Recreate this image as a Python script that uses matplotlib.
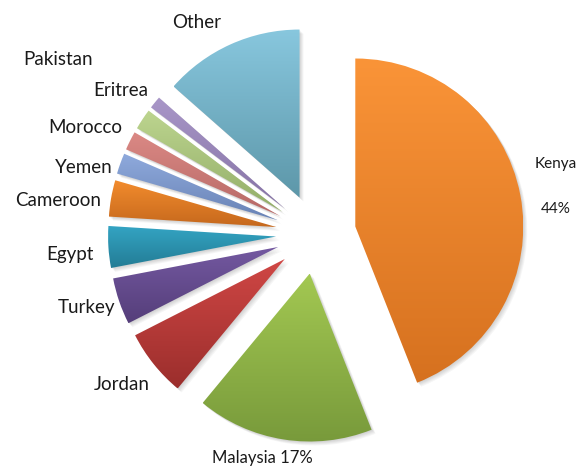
import numpy as np
import matplotlib.pyplot as plt
from matplotlib.colors import LinearSegmentedColormap
from matplotlib.patches import Wedge

countries = ["Kenya", "Malaysia", "Jordan", "Turkey", "Egypt", "Cameroon",
             "Yemen", "Morocco", "Eritrea", "Pakistan", "Other"]
shares = [44, 17, 6.5, 4.5, 4, 3.5, 2, 1.8, 2, 1.2, 13.5]
inline_pct = ["Malaysia"]      # percentage written after the name
own_line_pct = ["Kenya"]       # percentage written under the name

W, H = 579, 468

# (top, bottom) colours of each slice's vertical gradient
grads = [("#fa9438", "#d6711f"), ("#a3c852", "#789a3b"), ("#d04745", "#9b2e2c"),
         ("#7459a1", "#553e7a"), ("#34a5c4", "#237c95"), ("#f38c2d", "#c5681d"),
         ("#8faadd", "#6983b5"), ("#db8985", "#b66865"), ("#bdd58f", "#92ad68"),
         ("#a997c8", "#8572a5"), ("#88c7de", "#5d97a9")]

# label anchors (x, baseline) in pixels from the top-left corner
label_xy = [(556, 168), (262, 463), (122, 390), (86, 313), (70, 260), (58, 206),
            (84, 173), (85, 133), (121, 96), (58, 65), (197, 28)]
pct_xy = {"Kenya": (556, 213)}
label_size = {"Kenya": 11, "Malaysia": 12}

fig = plt.figure(figsize=(W / 100, H / 100), dpi=100)
ax = fig.add_axes([0, 0, 1, 1])

wedges, _ = ax.pie(shares, startangle=90, counterclock=False, radius=168,
                   center=(316, 234), explode=[40] * len(shares))

ramp = np.linspace(0, 1, 256).reshape(-1, 1)
for w, (top, bottom) in zip(wedges, grads):
    w.set_facecolor("none")
    w.set_edgecolor("none")
    w.set_zorder(3)
    # soft drop shadow
    cx, cy = w.center
    for k in range(1, 6):
        sh = Wedge((cx + 0.8 * k, cy - 0.8 * k), w.r, w.theta1, w.theta2,
                   facecolor="black", edgecolor="none", alpha=0.035, zorder=1)
        ax.add_patch(sh)
    bb = w.get_path().get_extents()
    cmap = LinearSegmentedColormap.from_list("g", [bottom, top])
    im = ax.imshow(ramp, cmap=cmap, origin="lower", aspect="auto",
                   extent=(bb.x0, bb.x1, bb.y0, bb.y1),
                   interpolation="bilinear", zorder=2)
    im.set_clip_path(w)

for name, v, (x, y) in zip(countries, shares, label_xy):
    txt = name
    if name in inline_pct:
        txt = f"{name} {v:.0f}%"
    fs = label_size.get(name, 13.5)
    ax.text(x, H - y, txt, ha="center", va="baseline", fontsize=fs,
            family="Lato", color="#1a1a1a")
    if name in own_line_pct:
        px, py = pct_xy[name]
        ax.text(px, H - py, f"{v:.0f}%", ha="center", va="baseline",
                fontsize=fs, family="Lato", color="#1a1a1a")

ax.set_xlim(0, W)
ax.set_ylim(0, H)
ax.set_aspect("auto")
ax.axis("off")

fig.savefig("out.png", dpi=100)
